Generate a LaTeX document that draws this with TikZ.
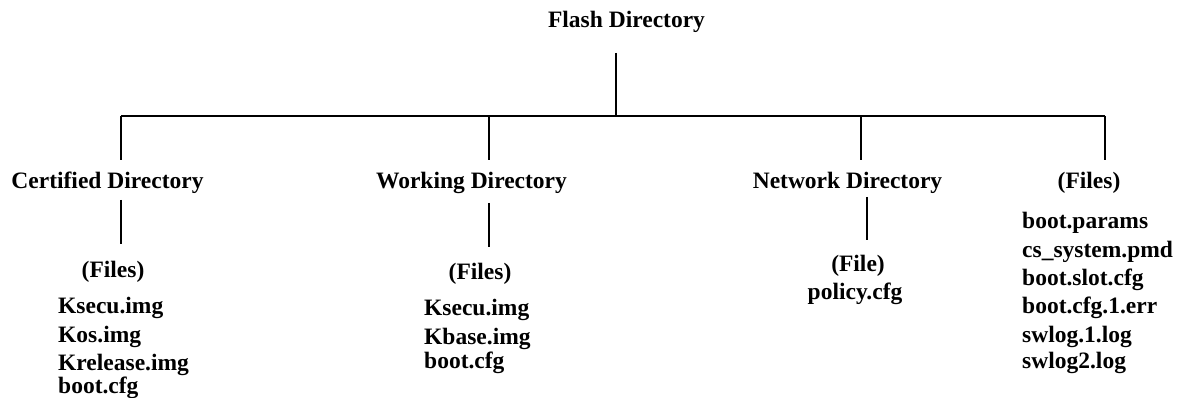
\documentclass[tikz,border=0pt]{standalone}
\usepackage{fontspec}
\setmainfont{Liberation Serif}
\begin{document}
\begin{tikzpicture}[x=1pt,y=-1pt,
  lbl/.style={inner sep=0pt,anchor=base,font=\fontsize{23.5}{28}\selectfont\bfseries},
  fl/.style={lbl,anchor=base west},
  conn/.style={line width=2.7pt,line cap=butt}]
\useasboundingbox (0,0) rectangle (1180,398);
% top
\node[lbl] (flash) at (626.5,28) {Flash Directory};
\node[lbl] (cert) at (107.5,189) {Certified Directory};
\node[lbl] (work) at (471.5,189) {Working Directory};
\node[lbl] (net) at (847.5,189) {Network Directory};
\node[lbl] (rfiles) at (1089,189) {(Files)};
% junctions
\coordinate (ftop) at (616,53);
\coordinate (j0) at (616,116);
\coordinate (jl) at (121,116);
\coordinate (jw) at (489,116);
\coordinate (jn) at (861,116);
\coordinate (jr) at (1105,116);
\coordinate (dc) at (121,160);
\coordinate (dw) at (489,160);
\coordinate (dn) at (861,160);
\coordinate (dr) at (1105,160);
\draw[conn] (ftop) -- (j0);
\draw[conn] (jl) -- (jr);
\draw[conn] (jl) -- (dc);
\draw[conn] (jw) -- (dw);
\draw[conn] (jn) -- (dn);
\draw[conn] (jr) -- (dr);
% certified
\node[lbl] (cfiles) at (113,277) {(Files)};
\coordinate (ca) at (121,200);
\coordinate (cb) at (121,244);
\draw[conn] (ca) -- (cb);
\node[fl] (c1) at (58,313) {Ksecu.img};
\node[fl] (c2) at (58,342) {Kos.img};
\node[fl] (c3) at (58,370) {Krelease.img};
\node[fl] (c4) at (58,393) {boot.cfg};
% working
\coordinate (wa) at (489,203);
\coordinate (wb) at (489,247);
\draw[conn] (wa) -- (wb);
\node[lbl] (wfiles) at (480,279) {(Files)};
\node[fl] (w1) at (424,315) {Ksecu.img};
\node[fl] (w2) at (424,344) {Kbase.img};
\node[fl] (w3) at (424,368) {boot.cfg};
% network
\coordinate (na) at (867,197);
\coordinate (nb) at (867,240);
\draw[conn] (na) -- (nb);
\node[lbl] (nfile) at (858,271) {(File)};
\node[lbl] (n1) at (855,299) {policy.cfg};
% right files
\node[fl] (r1) at (1022,229) {boot.params};
\node[fl] (r2) at (1022,257) {cs\_system.pmd};
\node[fl] (r3) at (1022,285) {boot.slot.cfg};
\node[fl] (r4) at (1022,313) {boot.cfg.1.err};
\node[fl] (r5) at (1022,342) {swlog.1.log};
\node[fl] (r6) at (1022,368) {swlog2.log};
\end{tikzpicture}
\end{document}
